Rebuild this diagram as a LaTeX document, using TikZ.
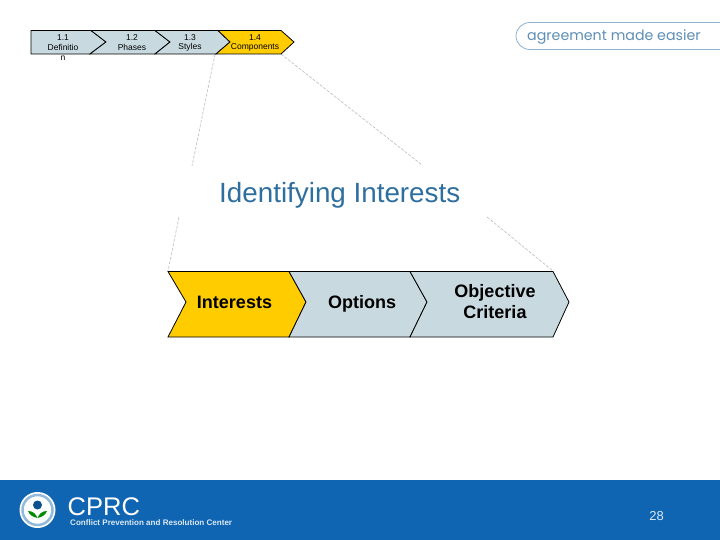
\documentclass[tikz,border=0pt]{standalone}
\usepackage{fontspec}
\setmainfont{Liberation Sans}
\newfontfamily\logofont{Poppins}
\definecolor{chevblue}{HTML}{C8DAE0}
\definecolor{chevgold}{HTML}{FFCC00}
\definecolor{titleblue}{HTML}{2F6F9F}
\definecolor{footblue}{HTML}{0F65B2}
\definecolor{logoblue}{HTML}{5F8FB6}
\definecolor{logoline}{HTML}{8FB2CF}
\definecolor{guide}{HTML}{BDBDBD}
\tikzset{
  x=1pt,y=-1pt,
  chevron/.style={draw=black,line width=0.8pt,line join=miter},
  small/.style={font=\fontsize{8.5}{9}\selectfont,inner sep=0pt,text=black},
  big/.style={font=\bfseries\fontsize{18}{21}\selectfont,inner sep=0pt,anchor=base,text=black},
  guideline/.style={draw=guide,line width=0.6pt,dash pattern=on 3pt off 1.5pt},
}
\begin{document}
\begin{tikzpicture}
\useasboundingbox (0,0) rectangle (720,540);
\fill[white] (0,0) rectangle (720,540);
% guide anchors
\coordinate (g1a) at (215,54); \coordinate (g1b) at (192,166);
\coordinate (g2a) at (179,217); \coordinate (g2b) at (168,271);
\coordinate (g3a) at (281,54); \coordinate (g3b) at (422,165);
\coordinate (g4a) at (487,217); \coordinate (g4b) at (553,271);
\draw[guideline] (g1a) -- (g1b);
\draw[guideline] (g2a) -- (g2b);
\draw[guideline] (g3a) -- (g3b);
\draw[guideline] (g4a) -- (g4b);
% small chevrons
\draw[chevron,fill=chevblue] (31,30.5) -- (91,30.5) -- (106,42) -- (90,54) -- (31,54) -- cycle;
\draw[chevron,fill=chevblue] (91,30.5) -- (155,30.5) -- (170,42) -- (155,54) -- (90,54) -- (106,42) -- cycle;
\draw[chevron,fill=chevblue] (155,30.5) -- (218,30.5) -- (230,42) -- (216,54) -- (155,54) -- (170,42) -- cycle;
\draw[chevron,fill=chevgold] (218,30.5) -- (281,30.5) -- (294,42) -- (281,54) -- (216,54) -- (230,42) -- cycle;
\node[small] (n11) at (63,38) {1.1};
\node[small] (n11b) at (63,47.5) {Definitio};
\node[small] (n11c) at (63,58) {n};
\node[small] (n12) at (132,38) {1.2};
\node[small] (n12b) at (132,47.5) {Phases};
\node[small] (n13) at (190,38) {1.3};
\node[small] (n13b) at (190,47.5) {Styles};
\node[small] (n14) at (255,38) {1.4};
\node[small] (n14b) at (255,47.5) {Components};
% title
\node[anchor=base west,inner sep=0pt,text=titleblue,font=\fontsize{27.8}{30}\selectfont] (title) at (219,202.5) {Identifying Interests};
% big chevrons
\draw[chevron,fill=chevgold] (168,271.5) -- (289,271.5) -- (306,302) -- (289,337) -- (168,337) -- (186,302) -- cycle;
\draw[chevron,fill=chevblue] (289,271.5) -- (410,271.5) -- (427,302) -- (410,337) -- (289,337) -- (306,302) -- cycle;
\draw[chevron,fill=chevblue] (410,271.5) -- (553,271.5) -- (569,302) -- (553,337) -- (410,337) -- (427,302) -- cycle;
\node[big] (interests) at (234.5,308) {Interests};
\node[big] (options) at (362,308) {Options};
\node[big] (objective) at (495,297) {Objective};
\node[big] (criteria) at (495,318) {Criteria};
% logo pill
\draw[logoline,line width=0.8pt] (720,22.5) -- (530,22.5) arc[start angle=90,end angle=270,x radius=14,y radius=-13.5] -- (720,49.5);
\node[anchor=base west,inner sep=0pt,text=logoblue,font=\logofont\fontsize{14.2}{16}\selectfont] (tag) at (527,40.5) {agreement made easier};
% footer
\fill[footblue] (0,480) rectangle (720,540);
\fill[white] (37.5,510) circle[radius=18];
\draw[footblue!45!white,line width=2.5pt] (37.5,510) circle[radius=15];
\fill[footblue!80!black] (37.5,505) circle[radius=4.5];
\fill[green!55!black] (37.5,518) .. controls (32,517) and (29,514) .. (28,511) .. controls (33,511) and (36,514) .. (37.5,518);
\fill[green!55!black] (37.5,518) .. controls (43,517) and (46,514) .. (47,511) .. controls (42,511) and (39,514) .. (37.5,518);
\node[anchor=base west,inner sep=0pt,text=white,font=\fontsize{25.5}{30}\selectfont] (cprc) at (67.5,515) {CPRC};
\node[anchor=base west,inner sep=0pt,text=white!85!footblue,font=\bfseries\fontsize{8.05}{9}\selectfont] (cprcname) at (70,525) {Conflict Prevention and Resolution Center};
\node[inner sep=0pt,text=white!85!footblue,font=\fontsize{13}{14}\selectfont] (page) at (656.5,516) {28};
\end{tikzpicture}
\end{document}
